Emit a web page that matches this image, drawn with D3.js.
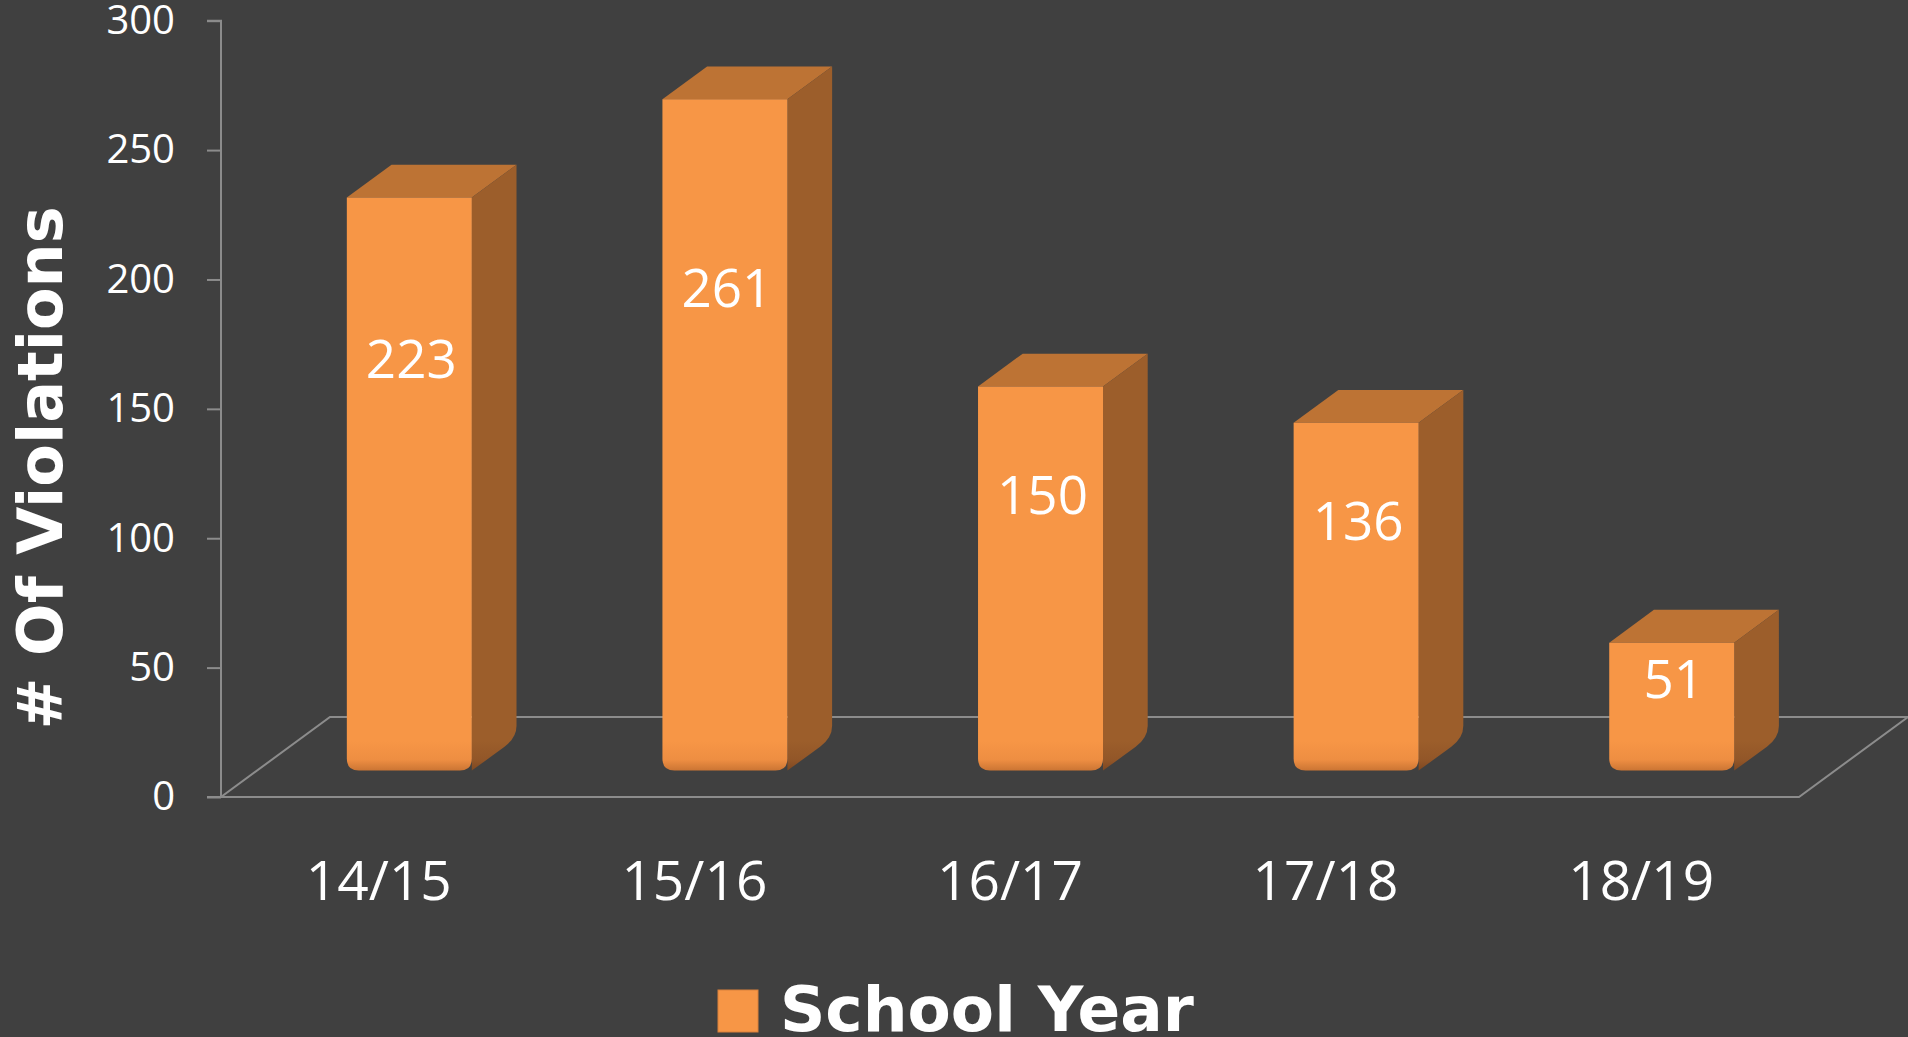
<!DOCTYPE html>
<html>
<head>
<meta charset="utf-8">
<script src="https://cdn.jsdelivr.net/npm/d3@7"></script>
<style>
    html, body { margin: 0; padding: 0; background: #404040; }
    svg { display: block; }
</style>
</head>
<body>
<div id="chart"></div>
<script>
// chart data
var categories = ['14/15', '15/16', '16/17', '17/18', '18/19'];
var violations = [223, 261, 150, 136, 51];
var yTicks = [0, 50, 100, 150, 200, 250, 300];
var seriesName = 'School Year';
var yTitle = '# Of Violations';

var width = 1908, height = 1037;

var colors = {
    bg: '#404040',
    front: '#f79646',
    top: '#bd7334',
    side: '#9c5e2b',
    axis: '#8c8c8c',
    text: '#ffffff'
};

// oblique depth of the floor, bars sit between t0 and t1 of it
var depth = {dx: 109, dy: -80},
    t0 = 0.28, t1 = 0.69,
    cornerR = 12;

var svg = d3.select('#chart').append('svg')
    .attr('width', width)
    .attr('height', height);

svg.append('rect').attr('width', width).attr('height', height).attr('fill', colors.bg);

var x = d3.scaleBand().domain(categories).range([221, 1799]).padding(0);
var y = d3.scaleLinear().domain([0, 300]).range([797, 20.7]);

var barW = x.bandwidth() * 0.396,
    sdx = (t1 - t0) * depth.dx,
    sdy = (t1 - t0) * depth.dy;

var defs = svg.append('defs');

function addBottomGradient(id, c0, c1, c2) {
    var g = defs.append('linearGradient')
        .attr('id', id)
        .attr('gradientUnits', 'userSpaceOnUse')
        .attr('x1', 0).attr('x2', 0)
        .attr('y1', y(0) + t0 * depth.dy - 34)
        .attr('y2', y(0) + t0 * depth.dy - 2);
    g.append('stop').attr('offset', 0).attr('stop-color', c0);
    g.append('stop').attr('offset', 0.6).attr('stop-color', c1);
    g.append('stop').attr('offset', 1).attr('stop-color', c2);
}
addBottomGradient('frontGrad', colors.front, '#ee8e42', '#c47031');
addBottomGradient('sideGrad', colors.side, '#925628', '#7a4520');

// floor + axes
var floor = svg.append('g').attr('class', 'floor')
    .attr('fill', 'none')
    .attr('stroke', colors.axis)
    .attr('stroke-width', 2);

var fx0 = x.range()[0], fx1 = x.range()[1], fy = y(0);
floor.append('path')
    .attr('d', 'M' + fx0 + ',' + fy +
        'L' + fx1 + ',' + fy +
        'L' + (fx1 + depth.dx) + ',' + (fy + depth.dy) +
        'L' + (fx0 + depth.dx) + ',' + (fy + depth.dy) + 'Z');

var yAxis = d3.axisLeft(y).tickValues(yTicks).tickSize(14).tickPadding(32);
var yAxisG = svg.append('g')
    .attr('transform', 'translate(' + fx0 + ',0)')
    .call(yAxis);
yAxisG.selectAll('.domain, .tick line').attr('stroke', colors.axis).attr('stroke-width', 2);
yAxisG.select('.domain').attr('d', 'M-14,' + y(300) + 'H0V' + y(0) + 'H-14');
yAxisG.selectAll('.tick text')
    .attr('fill', colors.text)
    .attr('font-family', '"Open Sans", sans-serif')
    .attr('font-size', 40);

// bars
function barGeom(c, v) {
    var x0 = x(c) + x.bandwidth() / 2 - barW / 2 + t0 * depth.dx,
        x1 = x0 + barW,
        top = y(v) + t0 * depth.dy,
        bottom = y(0) + t0 * depth.dy - 4;
    return {x0: x0, x1: x1, top: top, bottom: bottom};
}

var bars = svg.append('g').attr('class', 'bars')
    .selectAll('g')
    .data(categories.map(function (c, i) { return {cat: c, value: violations[i]}; }))
    .join('g');

bars.append('path')
    .attr('fill', colors.top)
    .attr('d', function (d) {
        var g = barGeom(d.cat, d.value);
        return 'M' + g.x0 + ',' + g.top + 'L' + g.x1 + ',' + g.top +
            'L' + (g.x1 + sdx) + ',' + (g.top + sdy) +
            'L' + (g.x0 + sdx) + ',' + (g.top + sdy) + 'Z';
    });

bars.append('path')
    .attr('fill', 'url(#sideGrad)')
    .attr('d', function (d) {
        var g = barGeom(d.cat, d.value), r = cornerR;
        return 'M' + g.x1 + ',' + g.top +
            'L' + (g.x1 + sdx) + ',' + (g.top + sdy) +
            'L' + (g.x1 + sdx) + ',' + (g.bottom + sdy - r) +
            'Q' + (g.x1 + sdx) + ',' + (g.bottom + sdy) + ' ' + (g.x1 + sdx - r) + ',' + (g.bottom + sdy + r * 0.75) +
            'L' + g.x1 + ',' + g.bottom + 'Z';
    });

bars.append('path')
    .attr('fill', 'url(#frontGrad)')
    .attr('d', function (d) {
        var g = barGeom(d.cat, d.value), r = cornerR;
        return 'M' + g.x0 + ',' + g.top + 'L' + g.x1 + ',' + g.top +
            'L' + g.x1 + ',' + (g.bottom - r) +
            'Q' + g.x1 + ',' + g.bottom + ' ' + (g.x1 - r) + ',' + g.bottom +
            'L' + (g.x0 + r) + ',' + g.bottom +
            'Q' + g.x0 + ',' + g.bottom + ' ' + g.x0 + ',' + (g.bottom - r) + 'Z';
    });

// value labels sit a bit above the middle of the bar, like excel does in 3d
bars.append('text')
    .attr('x', function (d) { var g = barGeom(d.cat, d.value); return (g.x0 + g.x1) / 2 + 2; })
    .attr('y', function (d) { return y(d.value * 0.72) + t0 * depth.dy; })
    .attr('dy', '0.35em')
    .attr('text-anchor', 'middle')
    .attr('fill', colors.text)
    .attr('font-family', '"Open Sans", sans-serif')
    .attr('font-size', 53)
    .text(function (d) { return d.value; });

// category labels
svg.append('g').selectAll('text')
    .data(categories)
    .join('text')
    .attr('x', function (c) { return x(c) + x.bandwidth() / 2; })
    .attr('y', 900)
    .attr('text-anchor', 'middle')
    .attr('fill', colors.text)
    .attr('font-family', '"Open Sans", sans-serif')
    .attr('font-size', 55)
    .text(function (c) { return c; });

// y title
svg.append('text')
    .attr('transform', 'translate(62,468) rotate(-90)')
    .attr('text-anchor', 'middle')
    .attr('fill', colors.text)
    .attr('font-family', '"DejaVu Sans", sans-serif')
    .attr('font-weight', 'bold')
    .attr('font-size', 62)
    .text(yTitle);

// legend
var legend = svg.append('g').attr('class', 'legend');
legend.append('rect')
    .attr('x', 718).attr('y', 990)
    .attr('width', 40).attr('height', 42)
    .attr('fill', colors.front)
    .attr('stroke', '#d9803a')
    .attr('stroke-width', 1);
legend.append('text')
    .attr('x', 780).attr('y', 1031)
    .attr('fill', colors.text)
    .attr('font-family', '"DejaVu Sans", sans-serif')
    .attr('font-weight', 'bold')
    .attr('font-size', 63)
    .text(seriesName);
</script>
</body>
</html>
